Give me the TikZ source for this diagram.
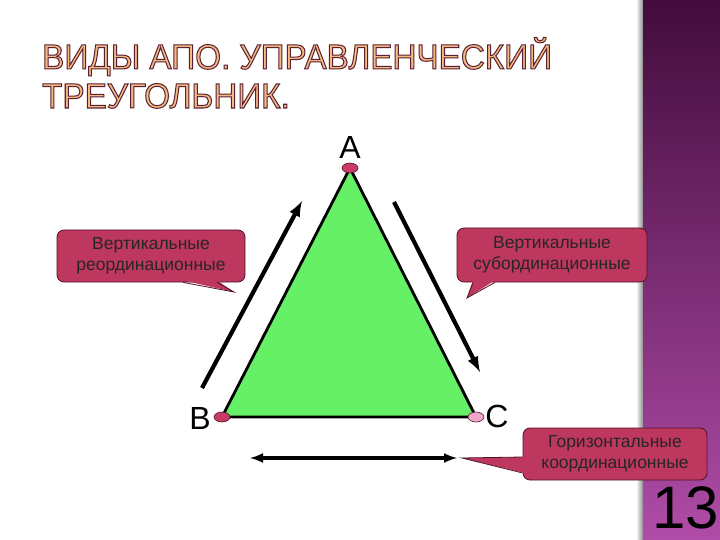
\documentclass[tikz,border=0pt]{standalone}
\usepackage{fontspec}
\setmainfont{Liberation Sans}
\newfontfamily\titlefont{Liberation Sans}[FakeStretch=0.95]
\usetikzlibrary{arrows,shapes,backgrounds}

\definecolor{calloutred}{RGB}{190,55,95}
\definecolor{calloutedge}{RGB}{80,20,40}
\definecolor{trigreen}{RGB}{102,240,102}
\definecolor{bartop}{RGB}{66,12,60}
\definecolor{barbottom}{RGB}{176,76,168}
\definecolor{peach}{RGB}{245,185,130}
\definecolor{vertred}{RGB}{200,60,100}
\definecolor{vertpink}{RGB}{240,165,205}

\tikzset{
  callout/.style={rectangle,rounded corners=7pt,fill=calloutred,draw=calloutedge,
    line width=0.8pt,align=center,text=black!85,inner sep=2pt,font=\fontsize{17.5}{21}\selectfont},
  vertex/.style={ellipse,draw=calloutedge,line width=0.6pt,minimum width=16pt,minimum height=10pt,inner sep=0pt},
  letter/.style={font=\fontsize{32}{32}\selectfont,inner sep=0pt}
}

\begin{document}
\begin{tikzpicture}[x=1pt,y=-1pt,>=latex]
\useasboundingbox[fill=white] (0,0) rectangle (720,540);
% purple bar on the right
\shade[left color=white,right color=black!45] (636,0) rectangle (643,540);
\shade[top color=bartop,bottom color=barbottom] (643,0) rectangle (720,540);
\node[anchor=base,inner sep=0pt,font=\fontsize{60}{60}\selectfont] (num) at (686,528) {13};
%
% title
\node[anchor=base west,inner sep=0pt] (title1) at (42,69)
  {\titlefont\fontsize{35}{35}\selectfont\color{peach}\special{pdf:literal direct 2 Tr 1 w 0.35 0.12 0.2 RG}ВИДЫ АПО. УПРАВЛЕНЧЕСКИЙ\special{pdf:literal direct 0 Tr}};
\node[anchor=base west,inner sep=0pt] (title2) at (42,108)
  {\titlefont\fontsize{35}{35}\selectfont\color{peach}\special{pdf:literal direct 2 Tr 1 w 0.35 0.12 0.2 RG}ТРЕУГОЛЬНИК.\special{pdf:literal direct 0 Tr}};
%
% triangle
\coordinate (A) at (350,168);
\coordinate (B) at (222,417);
\coordinate (C) at (476,417);
\filldraw[fill=trigreen,draw=black,line width=2.8pt,line join=round] (A) -- (B) -- (C) -- cycle;
\node[vertex,fill=vertred] (va) at (A) {};
\node[vertex,fill=vertred] (vb) at (B) {};
\node[vertex,fill=vertpink] (vc) at (C) {};
\node[letter] (la) at (350,147) {A};
\node[letter] (lb) at (200,418) {B};
\node[letter] (lc) at (497,416) {C};
%
% arrows along the sides
\coordinate (up0) at (202,388); \coordinate (up1) at (302,201);
\coordinate (dn0) at (394,202); \coordinate (dn1) at (480,372);
\coordinate (hz0) at (250,458); \coordinate (hz1) at (457,458);
\draw[->,line width=4.2pt] (up0) -- (up1);
\draw[->,line width=4.2pt] (dn0) -- (dn1);
\draw[<->,line width=3.4pt] (hz0) -- (hz1);
%
% callouts
\node[callout,minimum width=188pt,minimum height=52pt] (reord) at (151,256) {Вертикальные\\реординационные};
\coordinate (reordTip) at (234,292);
\fill[calloutred] ([xshift=32pt,yshift=2pt]reord.south) -- (reordTip) -- ([xshift=66pt,yshift=2pt]reord.south) -- cycle;
\draw[calloutedge,line width=0.8pt] ([xshift=32pt]reord.south) -- (reordTip) -- ([xshift=66pt]reord.south);
%
\node[callout,minimum width=190pt,minimum height=54pt] (subord) at (552,255) {Вертикальные\\субординационные};
\coordinate (subordTip) at (467,298);
\fill[calloutred] ([xshift=-79pt,yshift=2pt]subord.south) -- (subordTip) -- ([xshift=-57pt,yshift=2pt]subord.south) -- cycle;
\draw[calloutedge,line width=0.8pt] ([xshift=-79pt]subord.south) -- (subordTip) -- ([xshift=-57pt]subord.south);
%
\node[callout,minimum width=184pt,minimum height=52pt] (coord) at (615,454) {Горизонтальные\\координационные};
\coordinate (coordTip) at (462,458);
\fill[calloutred] ([xshift=2pt,yshift=-3pt]coord.west) -- (coordTip) -- ([xshift=2pt,yshift=-19pt]coord.west) -- cycle;
\draw[calloutedge,line width=0.8pt] ([yshift=-3pt]coord.west) -- (coordTip) -- ([yshift=-19pt]coord.west);
\end{tikzpicture}
\end{document}
